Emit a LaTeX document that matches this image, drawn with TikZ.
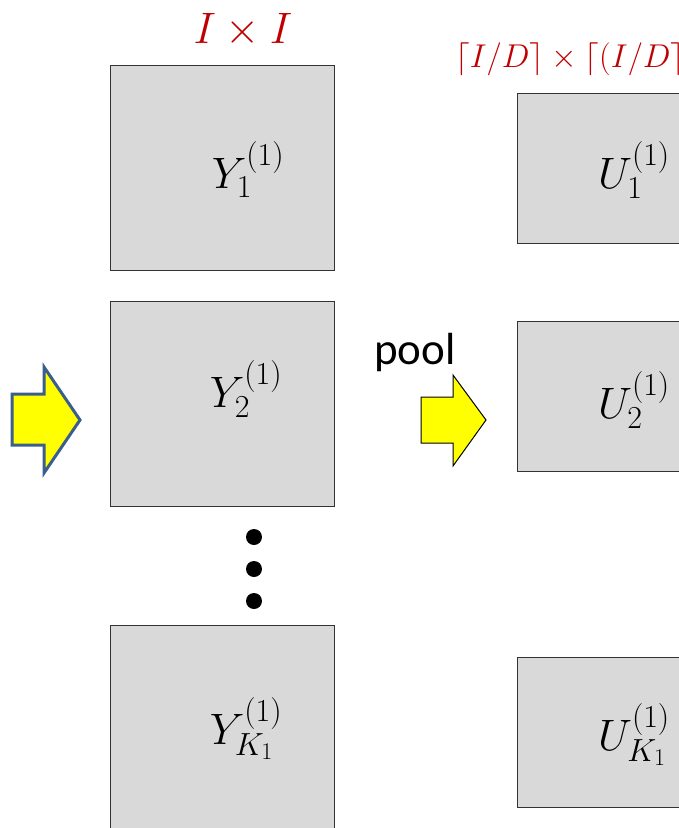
\RequirePackage{fix-cm}
\documentclass[tikz,border=0pt]{standalone}
\usepackage{amsmath}
\usepackage{fontspec}
\newfontfamily\poolfont{Carlito}
\usetikzlibrary{positioning,calc}
\newcommand\bigidx[1]{\mbox{\fontsize{32}{34}\selectfont$#1$}}
\newcommand\smallidx[1]{\mbox{\fontsize{24}{26}\selectfont$#1$}}
\definecolor{mapgray}{HTML}{D9D9D9}
\definecolor{darkred}{HTML}{C00000}
\definecolor{arrowblue}{HTML}{3B5E8C}
\definecolor{flowyellow}{HTML}{FFFF00}
\tikzset{fmap/.style={draw=black!80,line width=1pt,fill=mapgray,minimum width=224pt,minimum height=205pt,inner sep=0pt},
  umap/.style={fmap,minimum width=170pt,minimum height=150pt},
  maplbl/.style={font=\fontsize{44}{48}\selectfont,inner sep=0pt},
  dimlbl/.style={text=darkred,inner sep=0pt},
  bigarrow/.style={fill=flowyellow,draw=arrowblue,line width=3pt,line join=miter},
  poolarrow/.style={fill=flowyellow,draw=black,line width=1pt,line join=miter}}

\begin{document}
\begin{tikzpicture}[x=1pt,y=-1pt]
\useasboundingbox (0,0) rectangle (679,828);
\clip (0,0) rectangle (679,828);
% feature maps
\node[fmap] (Y1) at (222,167.5) {};
\node[fmap] (Y2) at (222,404) {};
\node[fmap] (Y3) at (222,727.5) {};
\node[umap] (U1) at (602,168) {};
\node[umap] (U2) at (602,396) {};
\node[umap] (U3) at (602,732.5) {};
\node[maplbl] (Y1l) at ($(Y1.center)+(26,2)$) {$Y_{\bigidx{1}}^{\bigidx{(1)}}$};
\node[maplbl] (Y2l) at ($(Y2.center)+(24,-15)$) {$Y_{\bigidx{2}}^{\bigidx{(1)}}$};
\node[maplbl] (Y3l) at ($(Y3.center)+(24,1)$) {$Y_{\bigidx{K_{\smallidx{1}}}}^{\bigidx{(1)}}$};
\node[maplbl] (U1l) at ($(U1.center)+(32,2)$) {$U_{\bigidx{1}}^{\bigidx{(1)}}$};
\node[maplbl] (U2l) at ($(U2.center)+(32,4)$) {$U_{\bigidx{2}}^{\bigidx{(1)}}$};
\node[maplbl] (U3l) at ($(U3.center)+(32,2)$) {$U_{\bigidx{K_{\smallidx{1}}}}^{\bigidx{(1)}}$};
% sizes
\node[dimlbl,font=\fontsize{44}{48}\selectfont,anchor=base] (szY) at (243,43) {$I\times I$};
\node[dimlbl,font=\fontsize{33}{36}\selectfont,anchor=base west] (szU) at (455,67) {$\lceil I/D\rceil\times\lceil(I/D\rceil$};
% dots
\foreach \y in {537,569,601} \fill (254,\y) circle (8);
% arrows
\draw[bigarrow] (12,394) -- (44,394) -- (44,367) -- (80,420) -- (44,473) -- (44,445) -- (12,445) -- cycle;
\draw[poolarrow] (421,397) -- (453,397) -- (453,375) -- (486,420) -- (453,466) -- (453,443) -- (421,443) -- cycle;
\node[font=\poolfont\fontsize{45}{48}\selectfont,anchor=base,inner sep=0pt] (pool) at (415,364) {pool};
\end{tikzpicture}
\end{document}
